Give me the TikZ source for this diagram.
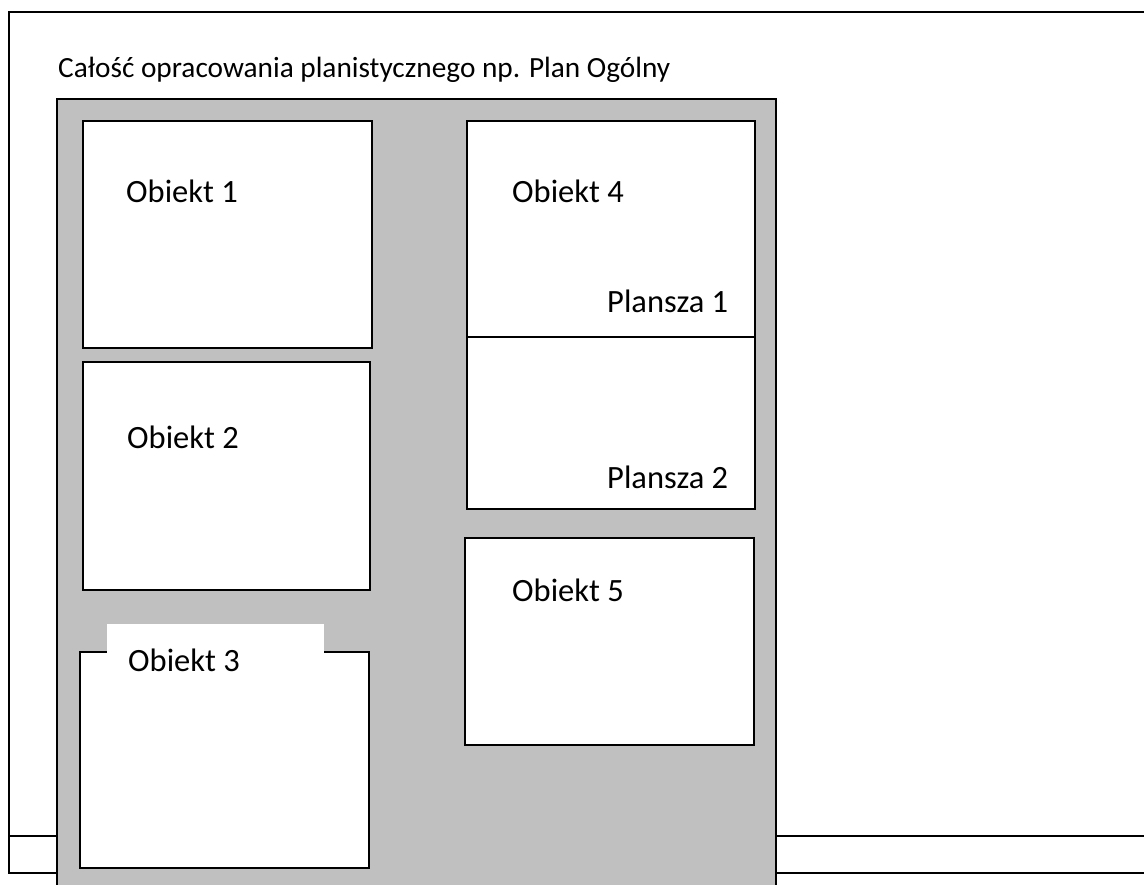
\documentclass[tikz,border=0pt]{standalone}
\usepackage{fontspec}
\setmainfont{Carlito}
\definecolor{planGray}{RGB}{192,192,192}
\tikzset{
  frame/.style={draw=black,line width=2.4pt},
  objbox/.style={draw=black,line width=2pt,fill=white},
  lbl/.style={anchor=base west,inner sep=0pt,font=\fontsize{32.5}{38}\selectfont},
}
\begin{document}
\begin{tikzpicture}[x=1pt,y=-1pt]
    \useasboundingbox (0,0) rectangle (1144,885);
    \clip (0,0) rectangle (1144,885);
    % outer frame
    \draw [frame] (1160,12) -- (9,12) -- (9,873) -- (1160,873);
    \draw [frame] (9,836) -- (1160,836);
    \node[lbl,font=\fontsize{29.3}{35}\selectfont] (title) at (58,78) {Całość opracowania planistycznego np. Plan Ogólny};

    % gray sheet
    \draw [draw=black,line width=2pt,fill=planGray] (57,99) rectangle (776,900);

    % left column
    \draw [objbox] (83,121) rectangle (372,348);
    \node[lbl] (ob1) at (126,203) {Obiekt 1};
    \draw [objbox] (83,362) rectangle (370,590);
    \node[lbl] (ob2) at (127,449) {Obiekt 2};
    \draw [objbox] (80,652) rectangle (369,868);
    \fill [white] (107,624) rectangle (324,656);
    \node[lbl] (ob3) at (128,671) {Obiekt 3};

    % right column
    \draw [objbox] (467,121) rectangle (755,337);
    \draw [objbox] (467,337) rectangle (755,509);
    \node[lbl] (ob4) at (512,203) {Obiekt 4};
    \node[lbl] (pl1) at (607,313) {Plansza 1};
    \node[lbl] (pl2) at (607,488) {Plansza 2};
    \draw [objbox] (465,538) rectangle (754,745);
    \node[lbl] (ob5) at (512,601) {Obiekt 5};
\end{tikzpicture}
\end{document}
